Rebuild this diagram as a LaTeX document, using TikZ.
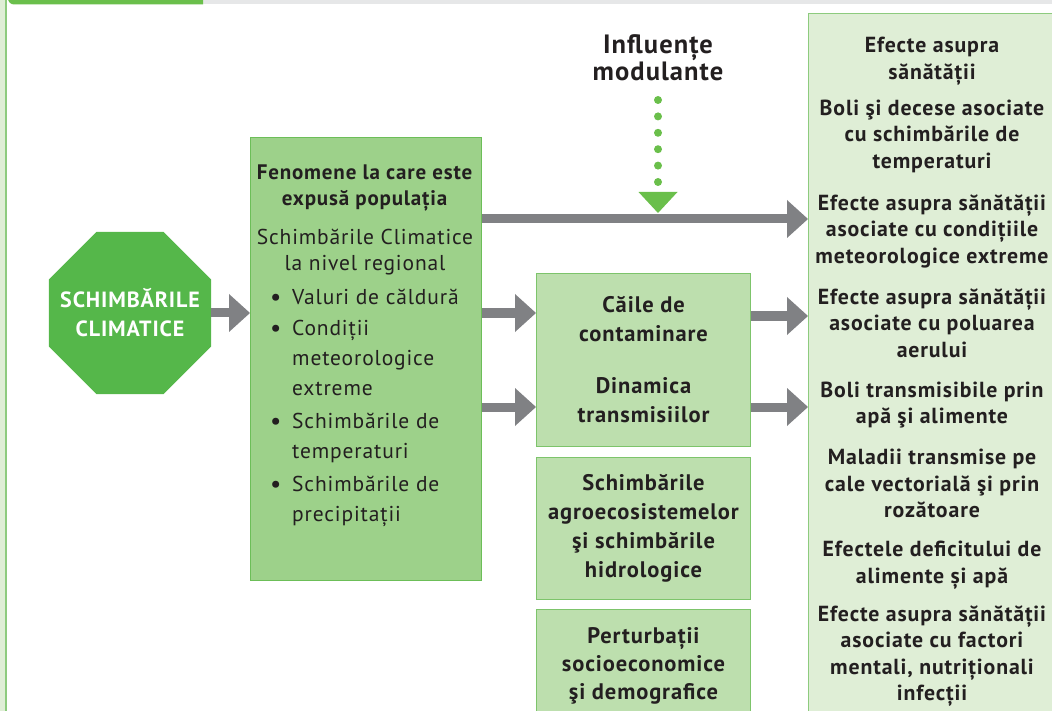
\documentclass[tikz,border=0pt]{standalone}
\usepackage{fontspec}
\setmainfont{PT Sans}[LetterSpace=4]
\usetikzlibrary{arrows.meta,shapes.geometric}
\definecolor{octgreen}{HTML}{55B74A}
\definecolor{fenfill}{HTML}{9DD18A}
\definecolor{fenline}{HTML}{6CBE58}
\definecolor{midfill}{HTML}{BDDFAE}
\definecolor{midline}{HTML}{7DC46B}
\definecolor{efffill}{HTML}{DFEED6}
\definecolor{effline}{HTML}{8DCB7E}
\definecolor{arrgray}{HTML}{808184}
\definecolor{dotgreen}{HTML}{6ABF4B}
\definecolor{bargray}{HTML}{E6E7E8}
\definecolor{txt}{HTML}{231F20}
\newcommand{\bul}{\makebox[22pt][l]{\raisebox{-1pt}{\fontsize{25}{30}\selectfont •}}}
\tikzset{
  fenbox/.style={draw=fenline, fill=fenfill, line width=1pt, anchor=north west, inner sep=0pt},
  midbox/.style={draw=midline, fill=midfill, line width=1pt, anchor=north west, inner sep=0pt,
     text=txt, align=center, font=\fontsize{22.5}{29}\selectfont\bfseries},
  effbox/.style={draw=effline, fill=efffill, line width=1pt, anchor=north west, inner sep=0pt},
  arr/.style={draw=arrgray, line width=9pt, -{Triangle[length=21pt,width=38pt,line width=0pt]}},
  dotarr/.style={draw=dotgreen, line width=8pt, line cap=round, dash pattern=on 0pt off 16.4pt,
     -{Triangle[length=21pt,width=39pt,line width=0pt]}},
  txtblock/.style={text=txt, inner sep=0pt}
}
\begin{document}
\begin{tikzpicture}[x=1pt,y=-1pt]
\useasboundingbox (0,0) rectangle (1052,711);
\clip (0,0) rectangle (1052,711);
% frame strips
\fill[bargray] (203,-2) rectangle (1052,4);
\fill[dotgreen] (8,-2) [rounded corners=6pt] -- (8,4.5) [sharp corners] -- (203,4.5) -- (203,-2) -- cycle;
\fill[efffill] (0,0) rectangle (5,711);
\fill[effline] (5,0) rectangle (7,711);

% octagon
\node[regular polygon, regular polygon sides=8, minimum size=175.4pt, fill=octgreen, inner sep=-40pt,
      text=white, align=center, font=\fontsize{22}{29}\selectfont\bfseries] (oct) at (130,313)
      {SCHIMBĂRILE\\CLIMATICE};

% exposure box
\node[fenbox, minimum width=231pt, minimum height=443pt] (fen) at (250,137) {};
\node[txtblock, anchor=north, align=center, font=\fontsize{21}{26}\selectfont] (fenhead) at (365,165)
  {\textbf{Fenomene la care este}\\\textbf{expusă populația}\\[12.5pt]{\fontsize{21.5}{26}\selectfont Schimbările Climatice}\\{\fontsize{21.5}{26}\selectfont la nivel regional}};
\node[txtblock, anchor=north west, align=left, font=\fontsize{21.5}{30}\selectfont] (fenlist) at (270,289)
  {\bul Valuri de căldură\\[1pt]
   \bul Condiții\\
   \hspace*{22pt}meteorologice\\
   \hspace*{22pt}extreme\\[3pt]
   \bul Schimbările de\\
   \hspace*{22pt}temperaturi\\[3pt]
   \bul Schimbările de\\
   \hspace*{22pt}precipitații};

% middle boxes
\node[midbox, minimum width=214pt, minimum height=173pt] (cai) at (536,273)
  {Căile de\\contaminare\\[23pt]Dinamica\\transmisiilor};
\node[midbox, minimum width=214pt, minimum height=142pt] (agro) at (536,457)
  {\raisebox{-3pt}{Schimbările}\\\raisebox{-3pt}{agroecosistemelor}\\\raisebox{-3pt}{şi schimbările}\\\raisebox{-3pt}{hidrologice}};
\node[midbox, minimum width=214pt, minimum height=112pt, font=\fontsize{22.5}{28}\selectfont\bfseries] (socio) at (536,609)
  {Perturbații\\socioeconomice\\şi demografice};

% effects box
\node[effbox, minimum width=260pt, minimum height=720pt] (eff) at (808,13) {};
\node[txtblock, anchor=north, align=center, font=\fontsize{21.8}{26.5}\selectfont\bfseries] (efftxt) at (932,37)
  {Efecte asupra\\sănătății\\[9.5pt]
   Boli şi decese asociate\\cu schimbările de\\temperaturi\\[15.5pt]
   Efecte asupra sănătății\\asociate cu condițiile\\meteorologice extreme\\[14.5pt]
   Efecte asupra sănătății\\asociate cu poluarea\\aerului\\[13.5pt]
   Boli transmisibile prin\\apă şi alimente\\[14.5pt]
   Maladii transmise pe\\cale vectorială şi prin\\rozătoare\\[12.5pt]
   Efectele deficitului de\\alimente și apă\\[11.5pt]
   Efecte asupra sănătății\\asociate cu factori\\mentali, nutriționali\\infecții};

% modulating influences
\node[txtblock, align=center, font=\fontsize{26.5}{27}\selectfont\bfseries] (mod) at (658,58)
  {Influențe\\modulante};
\coordinate (dotstart) at (658,100);
\coordinate (dotend) at (658,213);
\draw[dotarr] (dotstart) -- (dotend);

% arrows
\coordinate (ya) at (0,219);
\coordinate (yb) at (0,313);
\coordinate (yc) at (0,407);
\coordinate (yd) at (0,316);
\draw[arr] (oct.east) -- (fen.west |- oct.east);
\draw[arr] (fen.east |- ya) -- (eff.west |- ya);
\draw[arr] (fen.east |- yb) -- (cai.west |- yb);
\draw[arr] (fen.east |- yc) -- (cai.west |- yc);
\draw[arr] (cai.east |- yd) -- (eff.west |- yd);
\draw[arr] (cai.east |- yc) -- (eff.west |- yc);
\end{tikzpicture}
\end{document}
